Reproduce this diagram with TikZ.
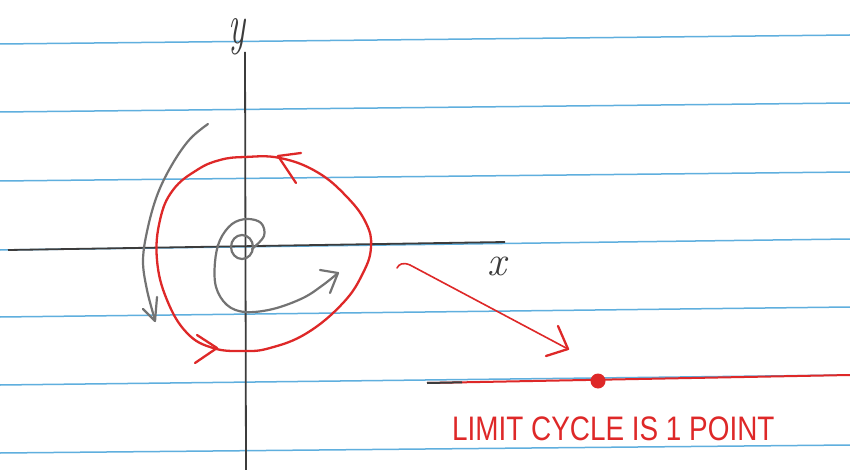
\documentclass[tikz,border=0pt]{standalone}
\usepackage{fontspec}
\setsansfont{Liberation Sans}
\usepackage{graphicx}
\definecolor{lineblue}{RGB}{95,175,222}
\definecolor{penred}{RGB}{222,40,40}
\definecolor{pengray}{RGB}{115,115,115}
\definecolor{pendark}{RGB}{60,60,60}
\begin{document}
\begin{tikzpicture}[x=1pt,y=-1pt,
  ruled/.style={lineblue,line width=1.5pt},
  axisline/.style={pendark,line width=1.8pt},
  redpen/.style={penred,line width=2.3pt,line cap=round,line join=round},
  graypen/.style={pengray,line width=2.2pt,line cap=round,line join=round},
  hand/.style={inner sep=0pt}]
\fill[white] (0,0) rectangle (850,470);
\useasboundingbox (0,0) rectangle (850,470);
% ruled lines
\foreach \a/\b in {44/35,112/103,181/172,250/239,317/307,385/375,453/445}
  \draw[ruled] (0,\a) -- (850,\b);
% axes
\coordinate (xa) at (8,250);
\coordinate (xb) at (505,242);
\coordinate (ya) at (245,52);
\coordinate (yb) at (246,470);
\draw[axisline] (xa) -- (xb);
\draw[axisline] (ya) -- (yb);
\node[hand,text=pendark] (ylab) at (237,37) {\scalebox{0.85}[1.35]{\fontsize{42}{42}\selectfont\itshape y}};
\node[hand,text=pendark] (xlab) at (497,266) {\fontsize{42}{42}\selectfont\itshape x};
% limit cycle (red)
\draw[redpen] plot[smooth cycle,tension=0.7] coordinates {
 (245,157) (280,158) (317,172) (347,197) (366,223) (371,247) (363,273)
 (343,303) (307,333) (270,348) (243,351) (213,348) (187,333) (167,300)
 (157,260) (160,220) (173,190) (197,170) (220,160)};
\draw[redpen] (301,153) -- (278,156) -- (296,183);
\draw[redpen] (197,335) -- (217,348) -- (195,363);
% gray spiral
\draw[graypen] (242,247) ellipse [x radius=11,y radius=12];
\draw[graypen] plot[smooth,tension=0.6] coordinates {
 (252,249) (264,236) (261,223) (247,219) (232,224) (220,240) (215,262)
 (216,287) (227,305) (245,312) (273,309) (303,298) (323,285) (338,273)};
\draw[graypen] (320,270) -- (338,273) -- (330,293);
% outer gray arrow
\draw[graypen] plot[smooth,tension=0.6] coordinates {
 (208,124) (190,139) (173,163) (158,193) (148,227) (143,260) (147,290) (155,320)};
\draw[graypen] (143,309) -- (155,321) -- (157,297);
% red arrow to point
\coordinate (ra) at (397,268);
\draw[redpen,line width=1.6pt] (ra) .. controls (399,264) and (403,262) .. (410,265)
  -- (568,349);
\draw[redpen] (546,356) -- (568,349) -- (558,326);
% line with point
\coordinate (la) at (427,383);
\coordinate (lb) at (850,375);
\draw[penred,line width=2pt] (la) -- (lb);
\draw[pendark,line width=2pt] (la) -- (462,382.3);
\node[circle,fill=penred,inner sep=0pt,minimum size=15pt] (pt) at (598,381) {};
\node[hand,anchor=west,text=penred] (note) at (452,429)
  {\scalebox{0.82}[1]{\fontsize{34}{34}\sffamily LIMIT CYCLE IS 1 POINT}};
\end{tikzpicture}
\end{document}
